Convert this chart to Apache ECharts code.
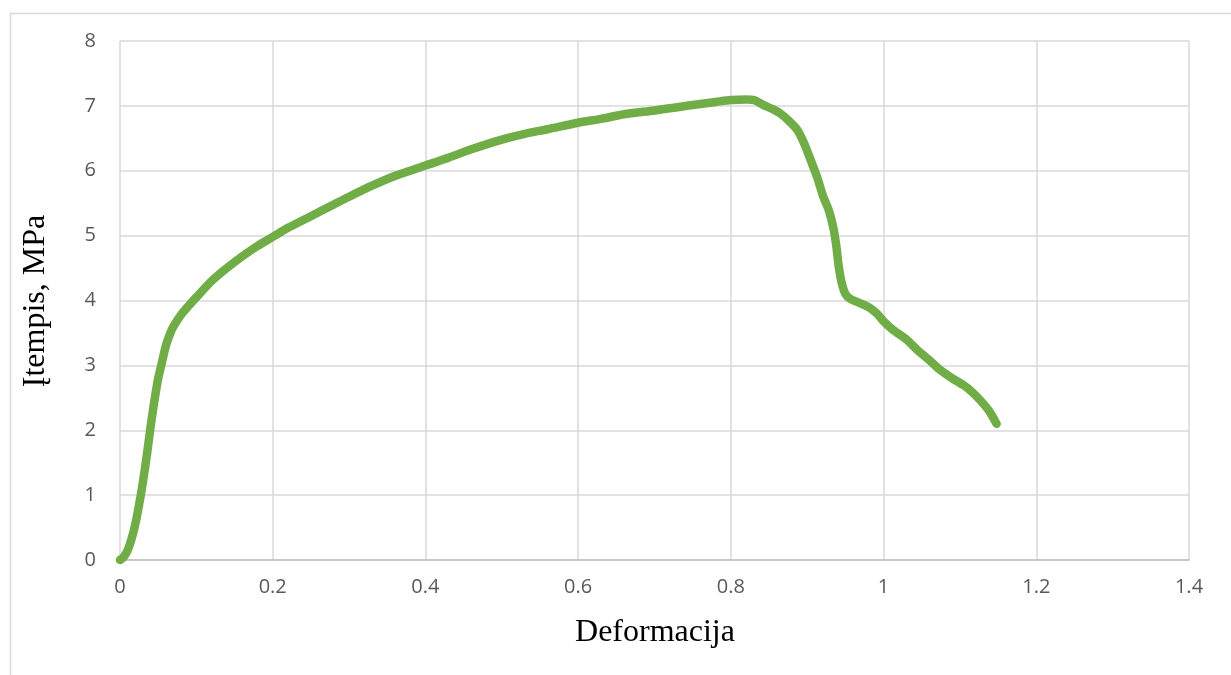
<!DOCTYPE html>
<html>
<head>
<meta charset="utf-8">
<script src="https://cdn.jsdelivr.net/npm/echarts@6/dist/echarts.min.js"></script>
<style>
  html, body { margin: 0; padding: 0; background: #fff; }
  #chart { width: 1231px; height: 675px; }
</style>
</head>
<body>
<div id="chart"></div>
<script>
// Strain (Deformacija) values
const strain = [
  0, 0.005, 0.01, 0.015, 0.02, 0.025, 0.03, 0.035, 0.04, 0.045,
  0.05, 0.055, 0.06, 0.065, 0.07, 0.08, 0.09, 0.1, 0.12, 0.14,
  0.16, 0.18, 0.2, 0.22, 0.25, 0.28, 0.3, 0.33, 0.36, 0.4,
  0.43, 0.46, 0.5, 0.53, 0.56, 0.6, 0.63, 0.66, 0.7, 0.73,
  0.76, 0.78, 0.8, 0.82, 0.83, 0.845, 0.855, 0.865, 0.875, 0.887,
  0.896, 0.906, 0.913, 0.921, 0.928, 0.934, 0.938, 0.941, 0.945, 0.95,
  0.957, 0.969, 0.98, 0.991, 1.0, 1.012, 1.03, 1.044, 1.06, 1.074,
  1.09, 1.104, 1.115, 1.126, 1.138, 1.148
];
// Stress (Įtempis) values, MPa
const stress = [
  0, 0.05, 0.15, 0.32, 0.55, 0.85, 1.2, 1.6, 2.05, 2.45,
  2.8, 3.05, 3.3, 3.47, 3.6, 3.78, 3.92, 4.05, 4.3, 4.5,
  4.68, 4.84, 4.98, 5.12, 5.3, 5.48, 5.6, 5.77, 5.92, 6.08,
  6.2, 6.33, 6.48, 6.57, 6.64, 6.74, 6.8, 6.87, 6.93, 6.98,
  7.03, 7.06, 7.09, 7.1, 7.09, 7.0, 6.95, 6.88, 6.78, 6.63,
  6.42, 6.12, 5.9, 5.6, 5.4, 5.13, 4.85, 4.55, 4.28, 4.1,
  4.02, 3.96, 3.9, 3.8, 3.68, 3.55, 3.4, 3.24, 3.08, 2.93,
  2.8, 2.7, 2.6, 2.47, 2.3, 2.1
];
const xTitle = 'Deformacija';
const yTitle = 'Įtempis, MPa';

const points = strain.map((x, i) => [x, stress[i]]);

const chart = echarts.init(document.getElementById('chart'), null, { renderer: 'canvas' });
const tickLabel = { fontFamily: 'Open Sans', fontSize: 20, color: '#595959' };
const gridLine = { show: true, lineStyle: { color: '#d9d9d9', width: 1.5 } };

chart.setOption({
  animation: false,
  backgroundColor: '#ffffff',
  grid: { left: 120, right: 42, top: 41, bottom: 115, containLabel: false },
  xAxis: {
    type: 'value', min: 0, max: 1.4, interval: 0.2,
    axisLine: { show: true, lineStyle: { color: '#bfbfbf', width: 1.5 } },
    axisTick: { show: false },
    splitLine: gridLine,
    axisLabel: Object.assign({ margin: 17, formatter: v => String(+v.toFixed(1)) }, tickLabel)
  },
  yAxis: {
    type: 'value', min: 0, max: 8, interval: 1,
    axisLine: { show: false },
    axisTick: { show: false },
    splitLine: gridLine,
    axisLabel: Object.assign({ margin: 24 }, tickLabel)
  },
  graphic: [
    {
      type: 'rect', left: 8, top: 11, silent: true,
      shape: { width: 1300, height: 700 },
      style: { fill: 'none', stroke: '#d9d9d9', lineWidth: 1.5 }
    },
    {
      type: 'text', x: 655, y: 633,
      style: { text: xTitle, font: '32px "Liberation Serif"', fill: '#000', align: 'center', verticalAlign: 'middle' }
    },
    {
      type: 'text', x: 36, y: 301, rotation: Math.PI / 2,
      style: { text: yTitle, font: '32px "Liberation Serif"', fill: '#000', align: 'center', verticalAlign: 'middle' }
    }
  ],
  series: [{
    type: 'line',
    data: points,
    showSymbol: false,
    smooth: 0.25,
    lineStyle: { color: '#70ad47', width: 8.5, cap: 'round', join: 'round' },
    itemStyle: { color: '#70ad47' }
  }]
});
</script>
</body>
</html>
